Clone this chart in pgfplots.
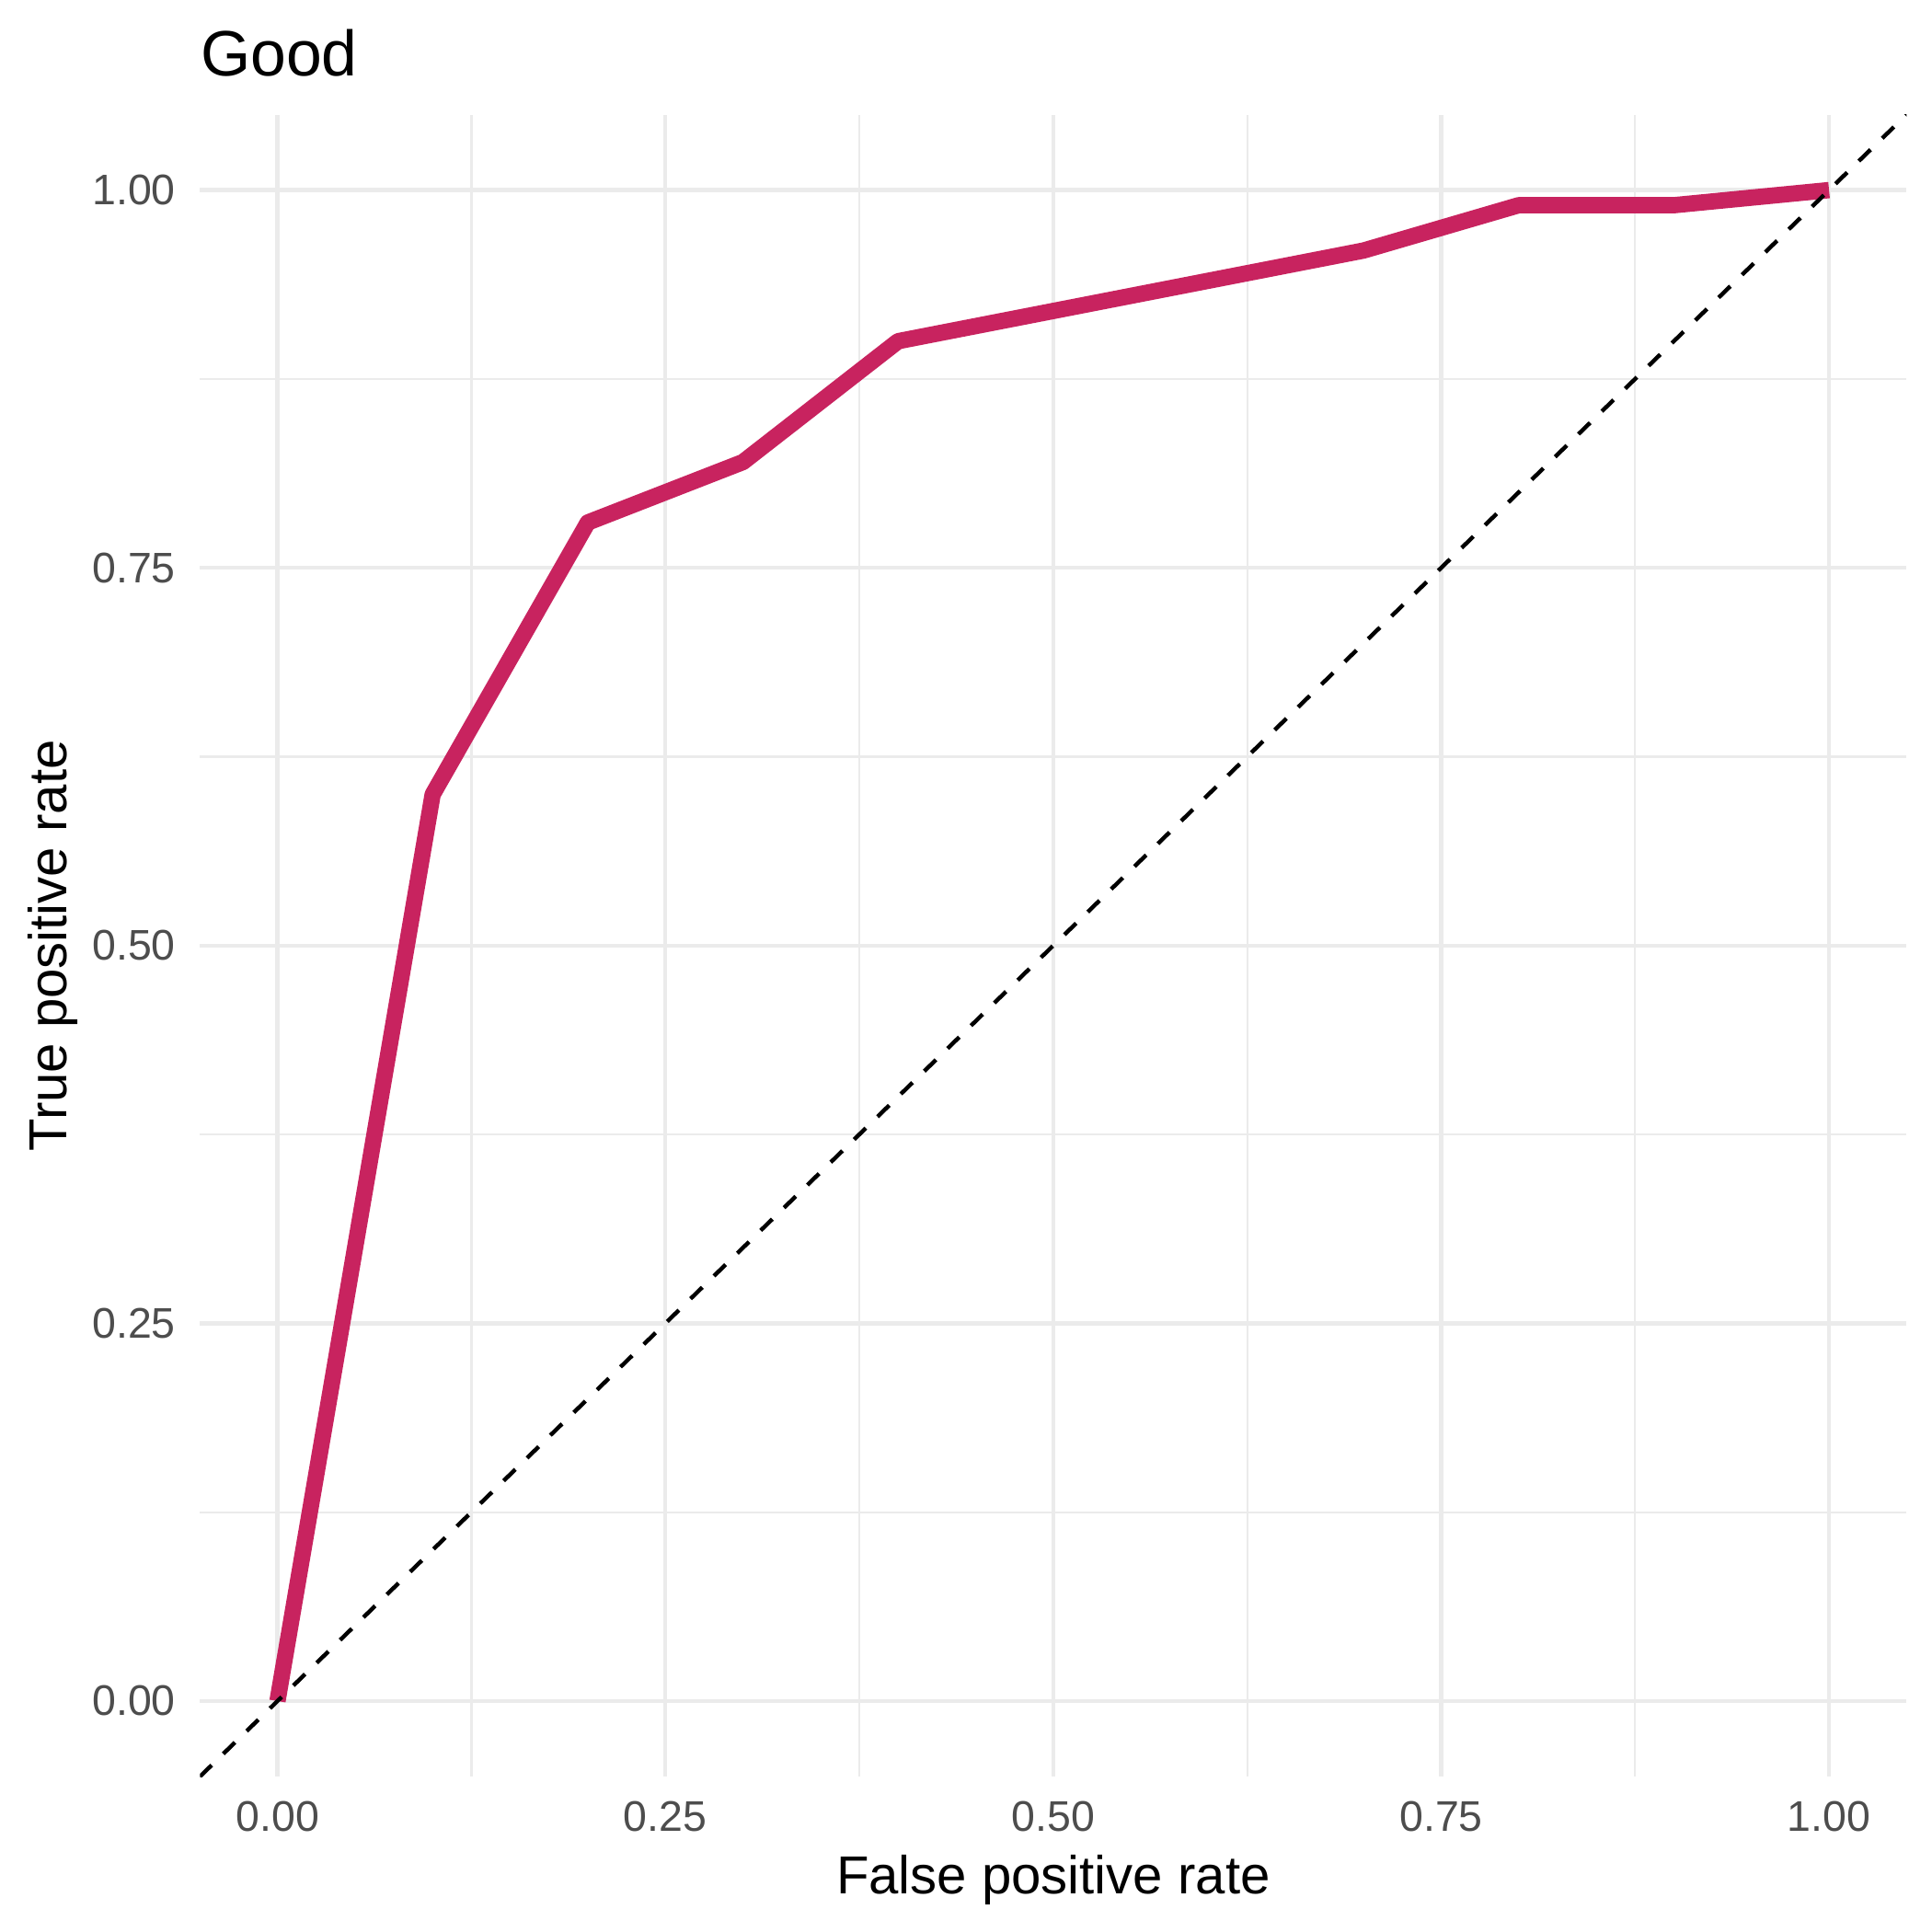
\documentclass[border=0pt]{standalone}
\usepackage{pgfplots}
\pgfplotsset{compat=1.18}
\usepackage{fontspec}
\setmainfont{Liberation Sans}
\definecolor{roc}{HTML}{C8235F}
\definecolor{gridc}{HTML}{EBEBEB}
\definecolor{tickc}{HTML}{4D4D4D}
\begin{document}
\begin{tikzpicture}
\path[use as bounding box] (-52.35pt,-40.7pt) rectangle (453.45pt,465.2pt);
\begin{axis}[
  at={(0,0)}, anchor=south west,
  scale only axis,
  width=446.9pt, height=435.2pt,
  xmin=-0.05, xmax=1.05, ymin=-0.05, ymax=1.05,
  xtick={0,0.25,0.5,0.75,1}, ytick={0,0.25,0.5,0.75,1},
  xticklabels={0.00,0.25,0.50,0.75,1.00},
  yticklabels={0.00,0.25,0.50,0.75,1.00},
  minor tick num=1,
  grid=both,
  major grid style={line width=1.07pt, gridc},
  minor grid style={line width=0.53pt, gridc},
  axis line style={draw=none},
  tick style={draw=none},
  /pgf/number format/assume math mode=true,
  xticklabel style={inner sep=0pt, anchor=north, yshift=-6.2pt, font=\fontsize{11.2}{13}\selectfont, text=tickc},
  yticklabel style={inner sep=0pt, anchor=east, xshift=-6.2pt, font=\fontsize{11.2}{13}\selectfont, text=tickc},
  clip=true,
]
\addplot[roc, line width=4.27pt, line join=round, line cap=butt] coordinates {
  (0,0) (0.1,0.6) (0.2,0.78) (0.3,0.82) (0.4,0.9) (0.7,0.96) (0.8,0.99) (0.9,0.99) (1,1)
};
\addplot[black, line width=1.07pt, dash pattern=on 4.27pt off 4.27pt] coordinates {
  (-0.05,-0.05) (1.05,1.05)
};
\end{axis}
\node[anchor=base west, inner sep=0pt, font=\fontsize{16.8}{20}\selectfont] at (0pt,445.4pt) {Good};
\node[anchor=base, inner sep=0pt, font=\fontsize{14}{17}\selectfont] at (223.45pt,-30.8pt) {False positive rate};
\node[anchor=base, inner sep=0pt, rotate=90, font=\fontsize{14}{17}\selectfont] at (-34.8pt,217.6pt) {True positive rate};
\end{tikzpicture}
\end{document}
